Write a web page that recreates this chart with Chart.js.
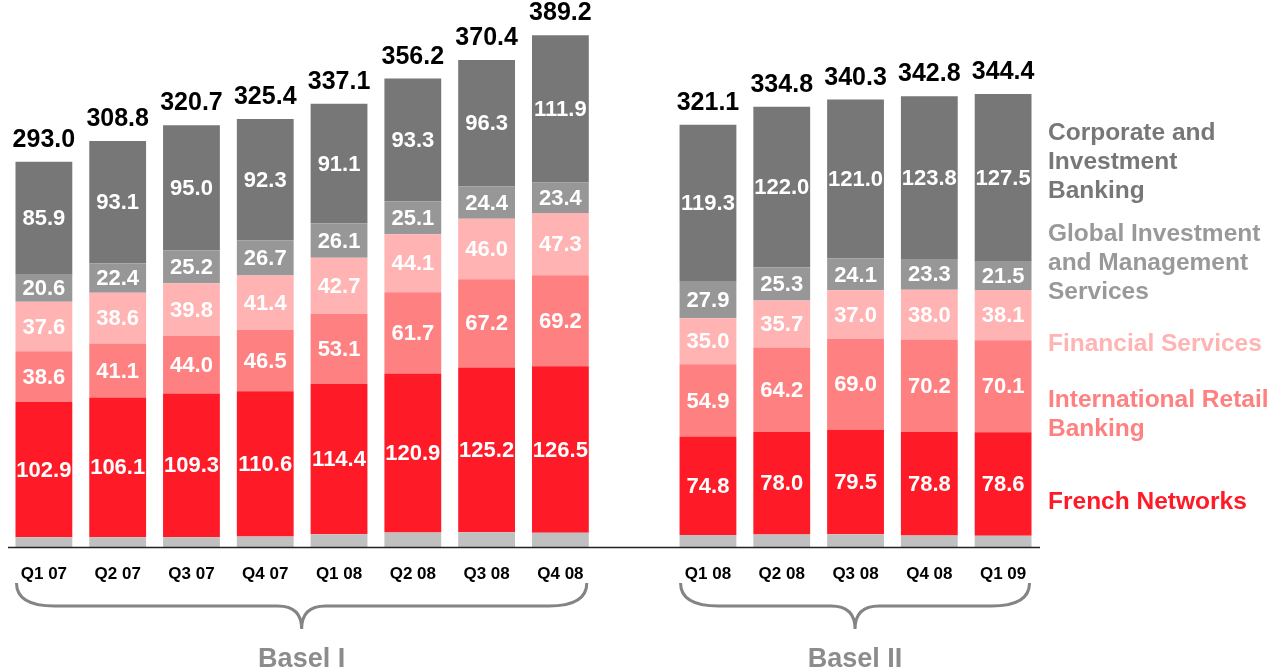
<!DOCTYPE html>
<html>
<head>
<meta charset="utf-8">
<script src="https://cdn.jsdelivr.net/npm/chart.js@4.4.0/dist/chart.umd.min.js"></script>
<style>
  body { margin: 0; background: #fff; }
  #wrap { width: 1273px; height: 668px; position: relative; }
</style>
</head>
<body>
<div id="wrap"><canvas id="myChart"></canvas></div>
<script>
"use strict";

// empty slot between the two groups
const categories = ["Q1 07", "Q2 07", "Q3 07", "Q4 07", "Q1 08", "Q2 08", "Q3 08", "Q4 08", "",
  "Q1 08", "Q2 08", "Q3 08", "Q4 08", "Q1 09"];
const otherValues = [7.4, 7.5, 7.4, 7.9, 9.7, 11.1, 11.3, 10.9, null, 9.2, 9.6, 9.7, 8.7, 8.6];
const frenchNetworks = [102.9, 106.1, 109.3, 110.6, 114.4, 120.9, 125.2, 126.5, null, 74.8, 78.0, 79.5, 78.8, 78.6];
const intlRetail = [38.6, 41.1, 44.0, 46.5, 53.1, 61.7, 67.2, 69.2, null, 54.9, 64.2, 69.0, 70.2, 70.1];
const financialServices = [37.6, 38.6, 39.8, 41.4, 42.7, 44.1, 46.0, 47.3, null, 35.0, 35.7, 37.0, 38.0, 38.1];
const gims = [20.6, 22.4, 25.2, 26.7, 26.1, 25.1, 24.4, 23.4, null, 27.9, 25.3, 24.1, 23.3, 21.5];
const cib = [85.9, 93.1, 95.0, 92.3, 91.1, 93.3, 96.3, 111.9, null, 119.3, 122.0, 121.0, 123.8, 127.5];
const totals = [293.0, 308.8, 320.7, 325.4, 337.1, 356.2, 370.4, 389.2, null, 321.1, 334.8, 340.3, 342.8, 344.4];
const groups = [
  { label: "Basel I", from: 0, to: 7 },
  { label: "Basel II", from: 9, to: 13 },
];

const FONT = "'Liberation Sans', Arial, sans-serif";

const legendItems = [
  { lines: ["Corporate and", "Investment", "Banking"], color: "#777777", y: 140 },
  { lines: ["Global Investment", "and Management", "Services"], color: "#999999", y: 241 },
  { lines: ["Financial Services"], color: "#ffb3b3", y: 351 },
  { lines: ["International Retail", "Banking"], color: "#ff8080", y: 407 },
  { lines: ["French Networks"], color: "#ff1a28", y: 509 },
];

const annotations = {
  id: "annotations",
  afterDatasetsDraw(chart) {
    const ctx = chart.ctx;
    const x = chart.scales.x;
    const y = chart.scales.y;
    const area = chart.chartArea;
    ctx.save();

    // values inside the segments (skip the grey "other" base)
    ctx.font = "bold 22px " + FONT;
    ctx.fillStyle = "#ffffff";
    ctx.textAlign = "center";
    ctx.textBaseline = "middle";
    chart.data.datasets.forEach((ds, di) => {
      if (di === 0) return;
      chart.getDatasetMeta(di).data.forEach((bar, i) => {
        const v = ds.data[i];
        if (v == null) return;
        ctx.fillText(v.toFixed(1), bar.x, (bar.y + bar.base) / 2 + 1);
      });
    });

    // totals
    ctx.font = "bold 25px " + FONT;
    ctx.fillStyle = "#000000";
    ctx.textBaseline = "alphabetic";
    totals.forEach((t, i) => {
      if (t == null) return;
      ctx.fillText(t.toFixed(1), x.getPixelForValue(i), y.getPixelForValue(t) - 15);
    });

    // baseline
    ctx.strokeStyle = "#222222";
    ctx.lineWidth = 1.5;
    ctx.beginPath();
    ctx.moveTo(area.left + 1, area.bottom + 0.5);
    ctx.lineTo(area.right, area.bottom + 0.5);
    ctx.stroke();

    // category labels
    ctx.font = "bold 17px " + FONT;
    ctx.textBaseline = "middle";
    categories.forEach((c, i) => {
      if (!c) return;
      ctx.fillText(c, x.getPixelForValue(i), 574);
    });

    // braces + group names
    const bars = chart.getDatasetMeta(1).data;
    groups.forEach(g => {
      const x1 = bars[g.from].x - bars[g.from].width / 2 + 1;
      const x2 = bars[g.to].x + bars[g.to].width / 2 - 2;
      const mid = (x1 + x2) / 2;
      const yTop = 583, yMid = 606, yTip = 629, r = 38, r2 = 24;
      ctx.strokeStyle = "#848484";
      ctx.lineWidth = 3;
      ctx.beginPath();
      ctx.moveTo(x1, yTop);
      ctx.quadraticCurveTo(x1, yMid, x1 + r, yMid);
      ctx.lineTo(mid - r2, yMid);
      ctx.quadraticCurveTo(mid, yMid, mid, yTip);
      ctx.quadraticCurveTo(mid, yMid, mid + r2, yMid);
      ctx.lineTo(x2 - r, yMid);
      ctx.quadraticCurveTo(x2, yMid, x2, yTop);
      ctx.stroke();

      ctx.font = "bold 27px " + FONT;
      ctx.fillStyle = "#8c8c8c";
      ctx.textBaseline = "alphabetic";
      ctx.fillText(g.label, mid, 667);
    });

    // legend on the right
    ctx.textAlign = "left";
    ctx.font = "bold 24.5px " + FONT;
    legendItems.forEach(item => {
      ctx.fillStyle = item.color;
      item.lines.forEach((line, k) => {
        ctx.fillText(line, 1048, item.y + k * 29);
      });
    });

    ctx.restore();
  },
};

const ctx = document.getElementById("myChart").getContext("2d");
const myChart = new Chart(ctx, {
  type: "bar",
  data: {
    labels: categories,
    datasets: [
      { label: "Other", data: otherValues, backgroundColor: "#c0c0c0" },
      { label: "French Networks", data: frenchNetworks, backgroundColor: "#ff1a28" },
      { label: "International Retail Banking", data: intlRetail, backgroundColor: "#ff8080" },
      { label: "Financial Services", data: financialServices, backgroundColor: "#ffb3b3" },
      { label: "Global Investment and Management Services", data: gims, backgroundColor: "#979797" },
      { label: "Corporate and Investment Banking", data: cib, backgroundColor: "#777777" },
    ],
  },
  options: {
    responsive: true,
    maintainAspectRatio: false,
    animation: false,
    layout: {
      padding: { left: 7, right: 233, top: 21, bottom: 121 },
    },
    datasets: {
      bar: {
        barPercentage: 0.77,
        categoryPercentage: 1.0,
        borderWidth: 0,
      },
    },
    scales: {
      x: { stacked: true, display: false },
      y: { stacked: true, display: false, min: 0, max: 400 },
    },
    plugins: {
      legend: { display: false },
      tooltip: { enabled: false },
    },
  },
  plugins: [annotations],
});
</script>
</body>
</html>
